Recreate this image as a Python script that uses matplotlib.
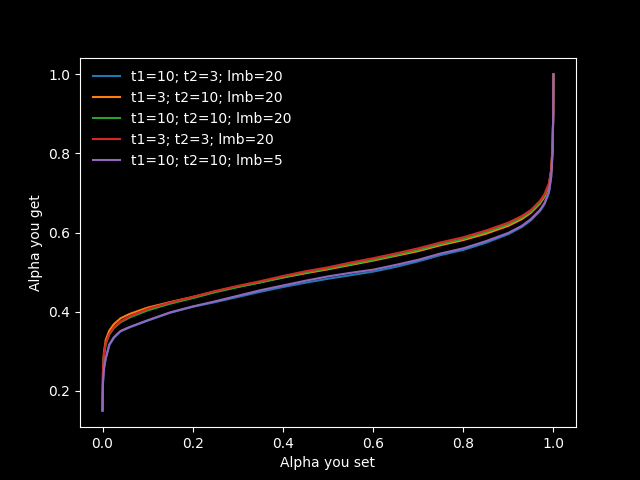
import numpy as np
import matplotlib
matplotlib.use('Agg')
import matplotlib.pyplot as plt

# alpha set (x) and alpha obtained (y) for each parameter setting
alpha_set = [0, 0.001, 0.003, 0.007, 0.015, 0.025, 0.04, 0.06, 0.1, 0.15,
             0.2, 0.25, 0.3, 0.35, 0.4, 0.45, 0.5, 0.55, 0.6, 0.65,
             0.7, 0.75, 0.8, 0.85, 0.9, 0.93, 0.95, 0.97, 0.98, 0.99,
             0.995, 0.998, 0.9995, 1.0]

get_t10_t3 = [0.15, 0.22, 0.255, 0.28, 0.315, 0.333, 0.350, 0.360, 0.377, 0.397,
              0.412, 0.424, 0.437, 0.450, 0.462, 0.473, 0.483, 0.492, 0.501, 0.513,
              0.527, 0.543, 0.556, 0.574, 0.596, 0.614, 0.631, 0.654, 0.671, 0.700,
              0.740, 0.800, 0.900, 1.0]
get_t3_t10 = [0.15, 0.25, 0.295, 0.328, 0.352, 0.368, 0.383, 0.394, 0.410, 0.424,
              0.437, 0.451, 0.463, 0.474, 0.486, 0.497, 0.507, 0.518, 0.529, 0.541,
              0.553, 0.568, 0.581, 0.597, 0.617, 0.634, 0.650, 0.673, 0.690, 0.718,
              0.755, 0.815, 0.900, 1.0]
get_t10_t10 = [0.15, 0.245, 0.288, 0.318, 0.342, 0.358, 0.373, 0.385, 0.403, 0.420,
               0.434, 0.449, 0.462, 0.474, 0.487, 0.499, 0.509, 0.520, 0.531, 0.543,
               0.556, 0.571, 0.584, 0.601, 0.621, 0.638, 0.653, 0.676, 0.693, 0.721,
               0.757, 0.817, 0.900, 1.0]
get_t3_t3 = [0.15, 0.25, 0.29, 0.32, 0.343, 0.360, 0.375, 0.388, 0.407, 0.423,
             0.437, 0.452, 0.465, 0.477, 0.490, 0.502, 0.512, 0.524, 0.535, 0.547,
             0.560, 0.575, 0.588, 0.605, 0.625, 0.642, 0.657, 0.680, 0.697, 0.725,
             0.760, 0.820, 0.900, 1.0]
get_t10_t10_l5 = [0.15, 0.22, 0.255, 0.282, 0.317, 0.335, 0.351, 0.361, 0.378, 0.398,
                  0.413, 0.426, 0.440, 0.454, 0.466, 0.478, 0.489, 0.498, 0.506, 0.518,
                  0.531, 0.547, 0.560, 0.578, 0.599, 0.617, 0.634, 0.657, 0.674, 0.703,
                  0.742, 0.802, 0.900, 1.0]

labels = ['t1=10; t2=3; lmb=20', 't1=3; t2=10; lmb=20', 't1=10; t2=10; lmb=20',
          't1=3; t2=3; lmb=20', 't1=10; t2=10; lmb=5']
series = [get_t10_t3, get_t3_t10, get_t10_t10, get_t3_t3, get_t10_t10_l5]
colors = ['tab:blue', 'tab:orange', 'tab:green', 'tab:red', 'tab:purple']

plt.style.use('dark_background')
fig, ax = plt.subplots(figsize=(6.4, 4.8), dpi=100)

for y, lab, c in zip(series, labels, colors):
    ax.plot(alpha_set, y, color=c, label=lab)

ax.set_xlabel('Alpha you set')
ax.set_ylabel('Alpha you get')
ax.legend(loc='upper left', frameon=False)

fig.savefig('out.png')
